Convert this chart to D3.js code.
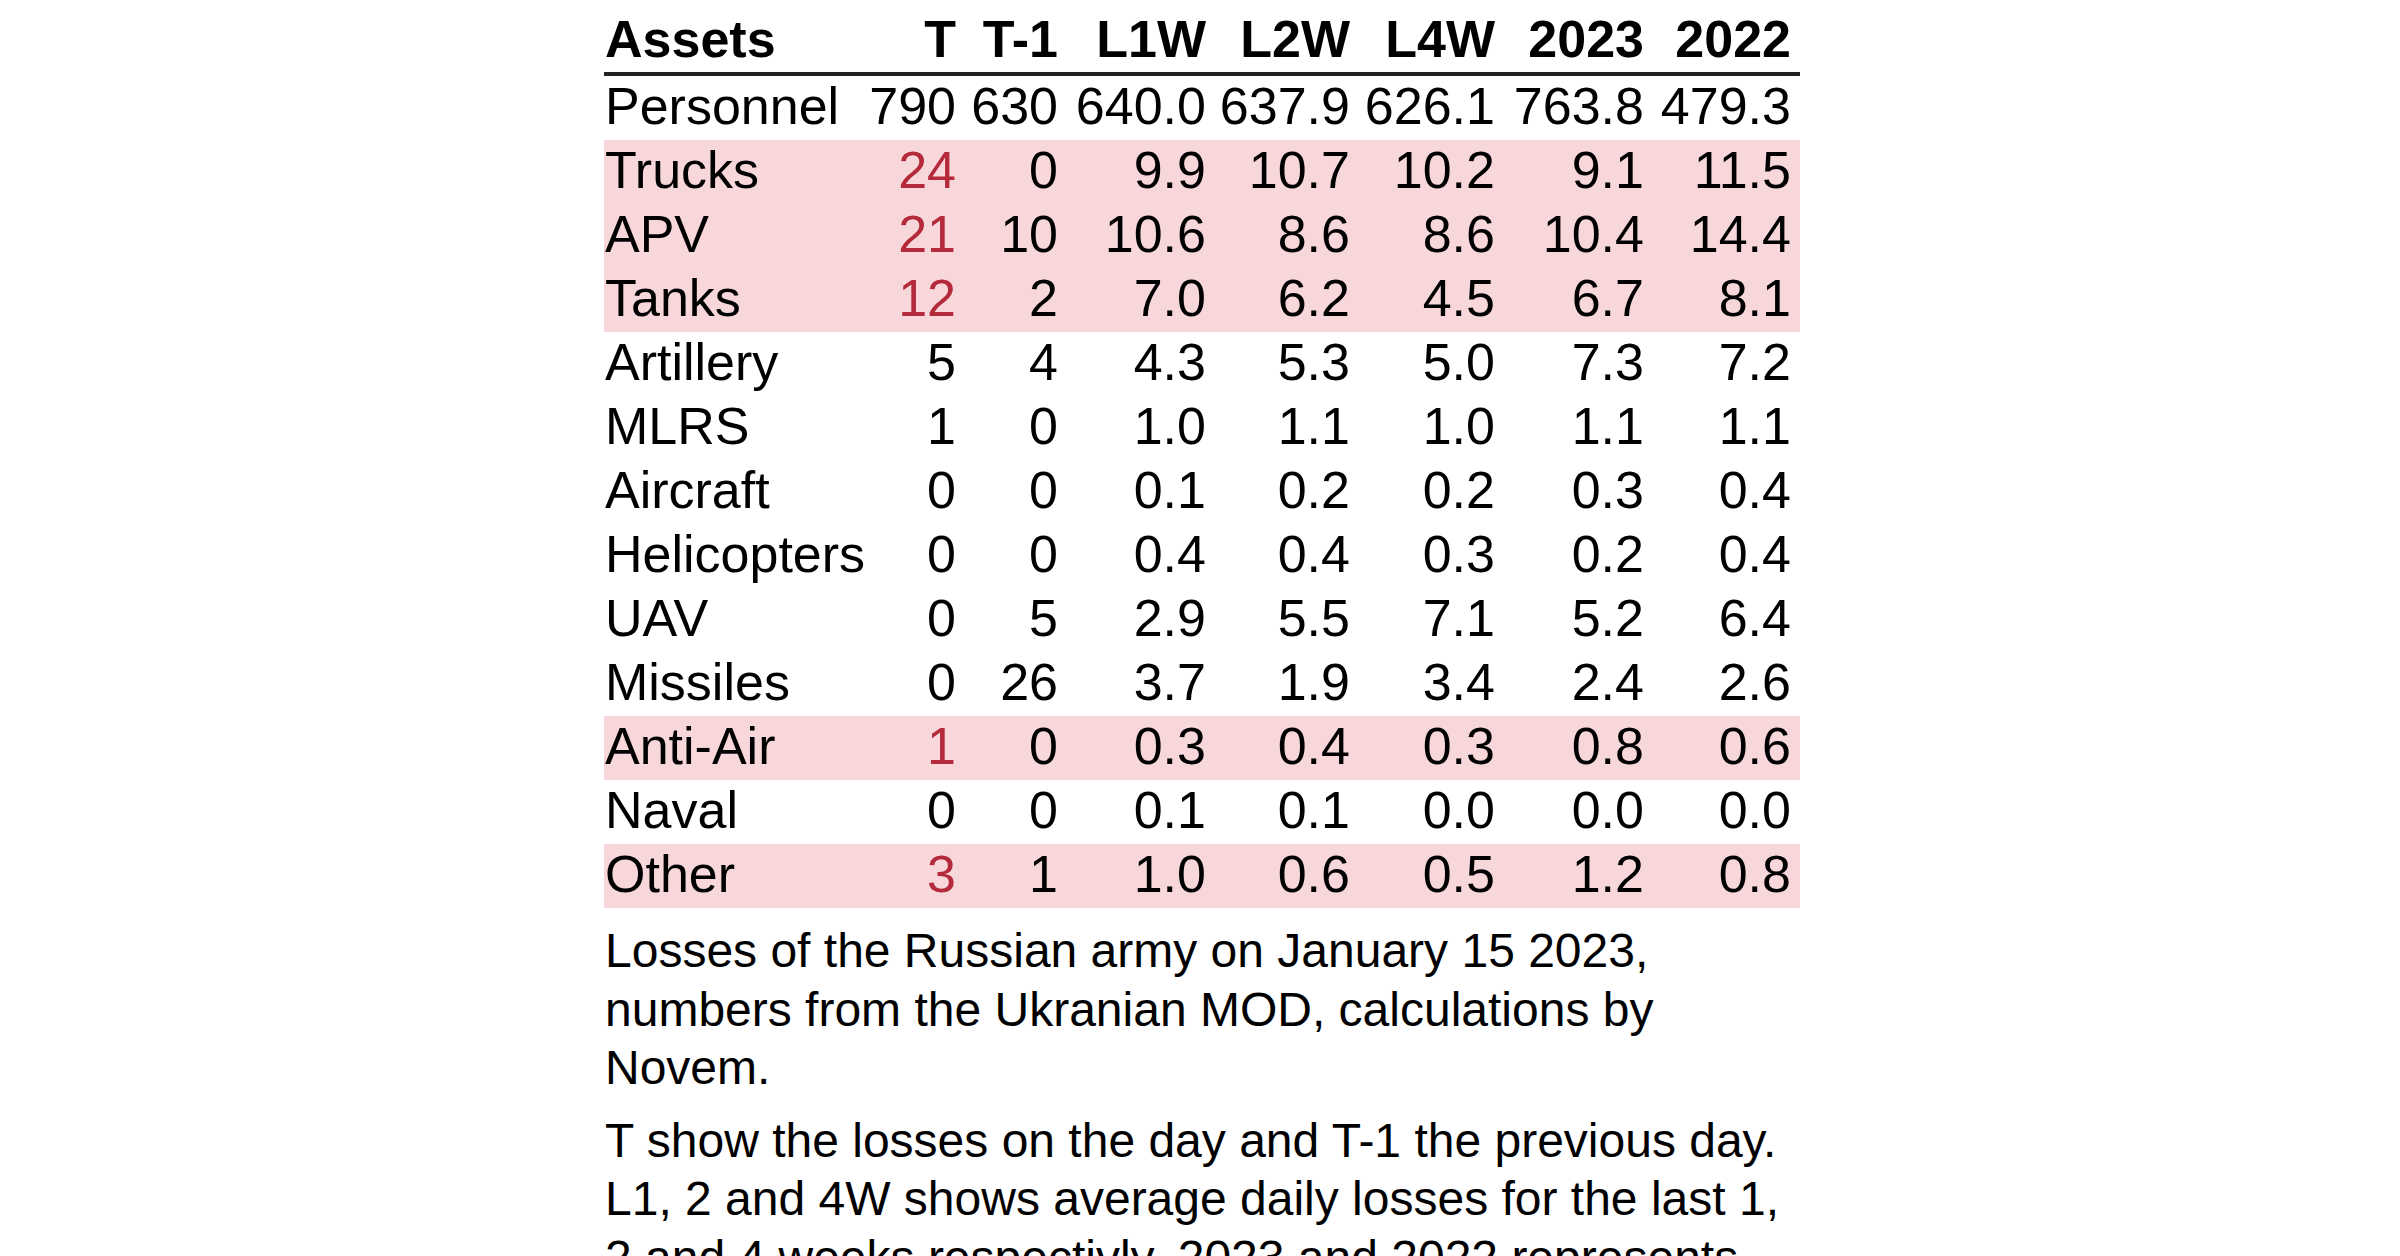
<!DOCTYPE html>
<html>
<head>
<meta charset="utf-8">
<script src="https://cdn.jsdelivr.net/npm/d3@7"></script>
<style>
  html, body { margin: 0; padding: 0; background: #fff; }
  svg { display: block; font-family: 'Liberation Sans', Arial, sans-serif; }
</style>
</head>
<body>
<svg id="chart" width="2400" height="1256"></svg>
<script>
// table data
const columns = ['T', 'T-1', 'L1W', 'L2W', 'L4W', '2023', '2022'];
const assets = ['Personnel', 'Trucks', 'APV', 'Tanks', 'Artillery', 'MLRS', 'Aircraft',
  'Helicopters', 'UAV', 'Missiles', 'Anti-Air', 'Naval', 'Other'];
const valT = [790, 24, 21, 12, 5, 1, 0, 0, 0, 0, 1, 0, 3];
const valT1 = [630, 0, 10, 2, 4, 0, 0, 0, 5, 26, 0, 0, 1];
const valL1W = [640.0, 9.9, 10.6, 7.0, 4.3, 1.0, 0.1, 0.4, 2.9, 3.7, 0.3, 0.1, 1.0];
const valL2W = [637.9, 10.7, 8.6, 6.2, 5.3, 1.1, 0.2, 0.4, 5.5, 1.9, 0.4, 0.1, 0.6];
const valL4W = [626.1, 10.2, 8.6, 4.5, 5.0, 1.0, 0.2, 0.3, 7.1, 3.4, 0.3, 0.0, 0.5];
const val2023 = [763.8, 9.1, 10.4, 6.7, 7.3, 1.1, 0.3, 0.2, 5.2, 2.4, 0.8, 0.0, 1.2];
const val2022 = [479.3, 11.5, 14.4, 8.1, 7.2, 1.1, 0.4, 0.4, 6.4, 2.6, 0.6, 0.0, 0.8];
const highlighted = ['Trucks', 'APV', 'Tanks', 'Anti-Air', 'Other'];
const notes = [
  'Losses of the Russian army on January 15 2023, numbers from the Ukranian MOD, calculations by Novem.',
  'T show the losses on the day and T-1 the previous day. L1, 2 and 4W shows average daily losses for the last 1, 2 and 4 weeks respectivly. 2023 and 2022 represents the average daily losses for each year.'
];

const series = [valT, valT1, valL1W, valL2W, valL4W, val2023, val2022];
const fmt = [d3.format('d'), d3.format('d'), d3.format('.1f'), d3.format('.1f'),
  d3.format('.1f'), d3.format('.1f'), d3.format('.1f')];

const rows = assets.map((a, i) => ({
  asset: a,
  cells: columns.map((c, j) => ({ col: c, text: fmt[j](series[j][i]) })),
  hl: highlighted.includes(a)
}));

const svg = d3.select('#chart');
const left = 604, right = 1800;
const fontSize = 52;

// row positions
const y = d3.scaleBand().domain(assets).range([76, 76 + 64 * assets.length]);
// right edge of each value column
const x = d3.scaleOrdinal()
  .domain(columns)
  .range([956, 1058, 1206, 1350, 1495, 1644, 1791]);

svg.append('rect').attr('width', 2400).attr('height', 1256).attr('fill', '#fff');

// header
const head = svg.append('g').attr('font-weight', 'bold').attr('font-size', fontSize);
head.append('text').attr('x', left + 1).attr('y', 57).text('Assets');
head.selectAll('.hcol')
  .data(columns)
  .join('text')
  .attr('class', 'hcol')
  .attr('x', (d) => x(d))
  .attr('y', 57)
  .attr('text-anchor', 'end')
  .text((d) => d);

svg.append('rect')
  .attr('x', left)
  .attr('y', 72)
  .attr('width', right - left)
  .attr('height', 4)
  .attr('fill', '#222');

// body rows
const rowG = svg.selectAll('.row')
  .data(rows)
  .join('g')
  .attr('class', 'row')
  .attr('transform', (d) => `translate(0,${y(d.asset)})`)
  .attr('font-size', fontSize);

rowG.filter((d) => d.hl)
  .append('rect')
  .attr('x', left)
  .attr('width', right - left)
  .attr('height', y.bandwidth())
  .attr('fill', '#f8d7da');

rowG.append('text')
  .attr('x', left + 1)
  .attr('y', 48)
  .text((d) => d.asset);

rowG.selectAll('.cell')
  .data((d) => d.cells.map((c) => ({ ...c, hl: d.hl })))
  .join('text')
  .attr('class', 'cell')
  .attr('x', (d) => x(d.col))
  .attr('y', 48)
  .attr('text-anchor', 'end')
  .attr('fill', (d) => (d.hl && d.col === 'T' ? '#b42a3b' : '#000'))
  .text((d) => d.text);

// notes under the table, wrapped to table width
const noteSize = 48, lineH = 58.5, paraGap = 14;
let baseY = 967;
notes.forEach((p) => {
  const t = svg.append('text')
    .attr('x', left + 1)
    .attr('y', baseY)
    .attr('font-size', noteSize);
  const words = p.split(' ');
  let line = [];
  let tspan = t.append('tspan').attr('x', left + 1).attr('y', baseY);
  let n = 0;
  words.forEach((w) => {
    line.push(w);
    tspan.text(line.join(' '));
    if (tspan.node().getComputedTextLength() > right - left - 4 && line.length > 1) {
      line.pop();
      tspan.text(line.join(' '));
      line = [w];
      n++;
      tspan = t.append('tspan')
        .attr('x', left + 1)
        .attr('y', baseY + n * lineH)
        .text(w);
    }
  });
  baseY += (n + 1) * lineH + paraGap;
});
</script>
</body>
</html>
